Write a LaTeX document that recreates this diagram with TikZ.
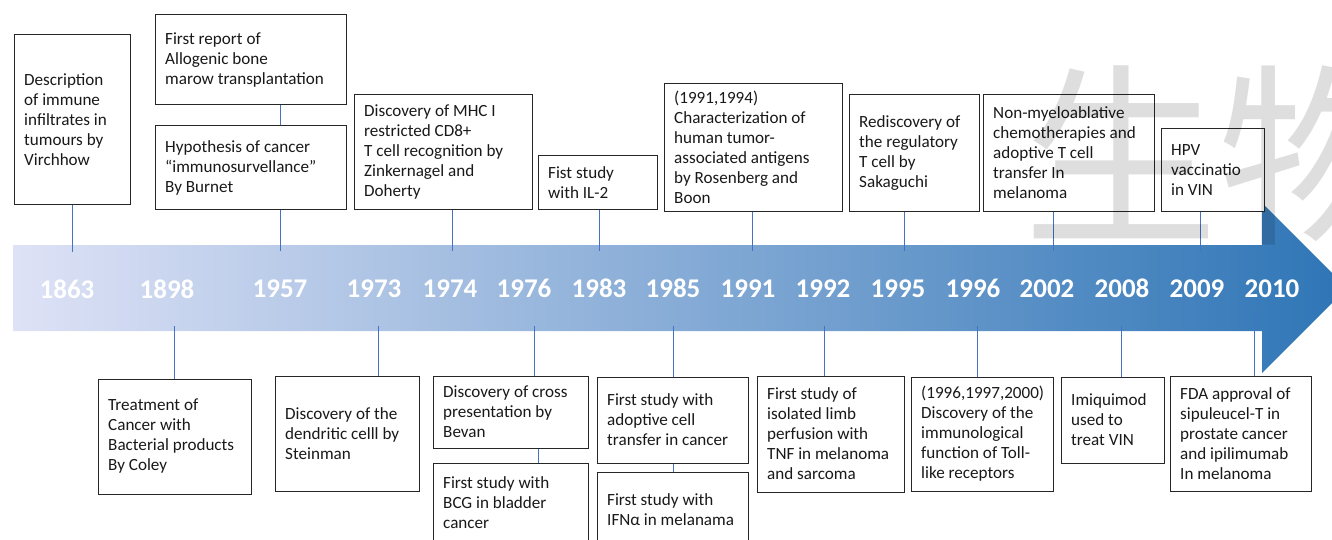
\documentclass[tikz,border=0pt]{standalone}
\usepackage{fontspec}
\setmainfont{Carlito}
\newfontfamily\cjk{Noto Sans CJK SC}
\definecolor{connblue}{RGB}{68,114,196}
\definecolor{arrowL}{RGB}{222,226,246}
\definecolor{arrowM}{RGB}{145,170,220}
\definecolor{arrowR}{RGB}{46,117,182}
\newcommand\evbox[6]{%
  \node[evbox, minimum width={#4-#2}, minimum height={#5-#3}] (#1) at ({(#2+#4)/2},{(#3+#5)/2}) {};
  \node[evtext, anchor=west] (#1t) at ([xshift=10.5pt]#1.west) {#6};
}
\begin{document}
\begin{tikzpicture}[x=1pt,y=-1pt,
  evbox/.style={draw=black!85, line width=1pt, fill=white, inner sep=0pt},
  evtext/.style={inner sep=0pt, align=left, font=\fontsize{17.1}{20}\selectfont, text=black!90},
  year/.style={text=white, font=\fontsize{27}{30}\selectfont\bfseries, anchor=base, inner sep=0pt},
  conn/.style={draw=connblue, line width=0.9pt}]
\useasboundingbox (0,0) rectangle (1332,540);
\clip (0,0) rectangle (1332,540);
% arrow
\path[left color=arrowL, middle color=arrowM, right color=arrowR]
  (13,245) -- (1262,245) -- (1262,203) -- (1347,288) -- (1262,373) -- (1262,331) -- (13,331) -- cycle;
% years
\node[year] (y1863) at (67,298.5) {1863};
\node[year] (y1898) at (167,298.5) {1898};
\node[year] (y1957) at (280,297) {1957};
\node[year] (y1973) at (374,297) {1973};
\node[year] (y1974) at (450,297) {1974};
\node[year] (y1976) at (524,297) {1976};
\node[year] (y1983) at (599,297) {1983};
\node[year] (y1985) at (673,297) {1985};
\node[year] (y1991) at (748,297) {1991};
\node[year] (y1992) at (823,297) {1992};
\node[year] (y1995) at (898,297) {1995};
\node[year] (y1996) at (973,297) {1996};
\node[year] (y2002) at (1047,297) {2002};
\node[year] (y2008) at (1122,297) {2008};
\node[year] (y2009) at (1197,297) {2009};
\node[year] (y2010) at (1272,297) {2010};
% connector ends on the arrow
\coordinate (t1863) at (72,252);
\coordinate (t1957) at (280,251);
\coordinate (t1974) at (452,251);
\coordinate (t1983) at (599,251);
\coordinate (t1991) at (752,251);
\coordinate (t1995) at (904,251);
\coordinate (t2002) at (1053,251);
\coordinate (t2009) at (1200,251);
\coordinate (b1898) at (174,326);
\coordinate (b1973) at (378,326);
\coordinate (b1976) at (534,326);
\coordinate (b1976x) at (538,326);
\coordinate (b1985) at (673,326);
\coordinate (b1992) at (824,326);
\coordinate (b1996) at (977,326);
\coordinate (b2008) at (1121,326);
\coordinate (b2010) at (1254,313);
% top boxes
\evbox{vir}{14}{35}{130}{204}{Description\\of immune\\infiltrates in\\tumours by\\Virchhow}
\evbox{allo}{155}{15}{346}{105}{First report of\\Allogenic bone\\marow transplantation}
\evbox{hyp}{155}{126}{346}{209}{Hypothesis of cancer\\“immunosurvellance”\\By Burnet}
\evbox{mhc}{354}{95}{532}{209}{Discovery of MHC I\\restricted CD8+\\T cell recognition by\\Zinkernagel and\\Doherty}
\evbox{ilt}{538}{156}{657}{209}{Fist study\\with IL-2}
\evbox{ros}{664}{84}{842}{211}{(1991,1994)\\Characterization of\\human tumor-\\associated antigens\\by Rosenberg and\\Boon}
\evbox{sak}{849}{95}{979}{211}{Rediscovery of\\the regulatory\\T cell by\\Sakaguchi}
\evbox{nmy}{983}{95}{1154}{211}{Non-myeloablative\\chemotherapies and\\adoptive T cell\\transfer In\\melanoma}
\evbox{hpv}{1161}{129}{1264}{211}{HPV\\vaccinatio\\in VIN}
% bottom boxes
\evbox{coley}{98}{379}{251}{494}{Treatment of\\Cancer with\\Bacterial products\\By Coley}
\evbox{stein}{275}{376}{419}{491}{Discovery of the\\dendritic celll by\\Steinman}
\evbox{bevan}{433}{376}{588}{448}{Discovery of cross\\presentation by\\Bevan}
\evbox{bcg}{433}{463}{588}{543}{First study with\\BCG in bladder\\cancer}
\evbox{adopt}{597}{377}{748}{463}{First study with\\adoptive cell\\transfer in cancer}
\evbox{ifn}{597}{472}{748}{548}{First study with\\IFNα in melanama}
\evbox{tnf}{757}{376}{904}{492}{First study of\\isolated limb\\perfusion with\\TNF in melanoma\\and sarcoma}
\evbox{toll}{911}{377}{1053}{491}{(1996,1997,2000)\\Discovery of the\\immunological\\function of Toll-\\like receptors}
\evbox{imiq}{1061}{377}{1164}{463}{Imiquimod\\used to\\treat VIN}
\evbox{fda}{1170}{376}{1311}{491}{FDA approval of\\sipuleucel-T in\\prostate cancer\\and ipilimumab\\In melanoma}
% connectors
\draw[conn] (vir.south -| t1863) -- (t1863);
\draw[conn] (allo.south -| t1957) -- (hyp.north -| t1957);
\draw[conn] (hyp.south -| t1957) -- (t1957);
\draw[conn] (mhc.south -| t1974) -- (t1974);
\draw[conn] (ilt.south -| t1983) -- (t1983);
\draw[conn] (ros.south -| t1991) -- (t1991);
\draw[conn] (sak.south -| t1995) -- (t1995);
\draw[conn] (nmy.south -| t2002) -- (t2002);
\draw[conn] (hpv.south -| t2009) -- (t2009);
\draw[conn] (b1898) -- (coley.north -| b1898);
\draw[conn] (b1973) -- (stein.north -| b1973);
\draw[conn] (b1976) -- (bevan.north -| b1976);
\draw[conn] (bevan.south -| b1976x) -- (bcg.north -| b1976x);
\draw[conn] (b1985) -- (adopt.north -| b1985);
\draw[conn] (adopt.south -| b1985) -- (ifn.north -| b1985);
\draw[conn] (b1992) -- (tnf.north -| b1992);
\draw[conn] (b1996) -- (toll.north -| b1996);
\draw[conn] (b2008) -- (imiq.north -| b2008);
\draw[conn] (b2010) -- (fda.north -| b2010);
% watermark
\node[text=black, opacity=0.13, font=\cjk\fontsize{195}{195}\selectfont, inner sep=0pt] (wm) at (1218,155) {生物};
\end{tikzpicture}
\end{document}
